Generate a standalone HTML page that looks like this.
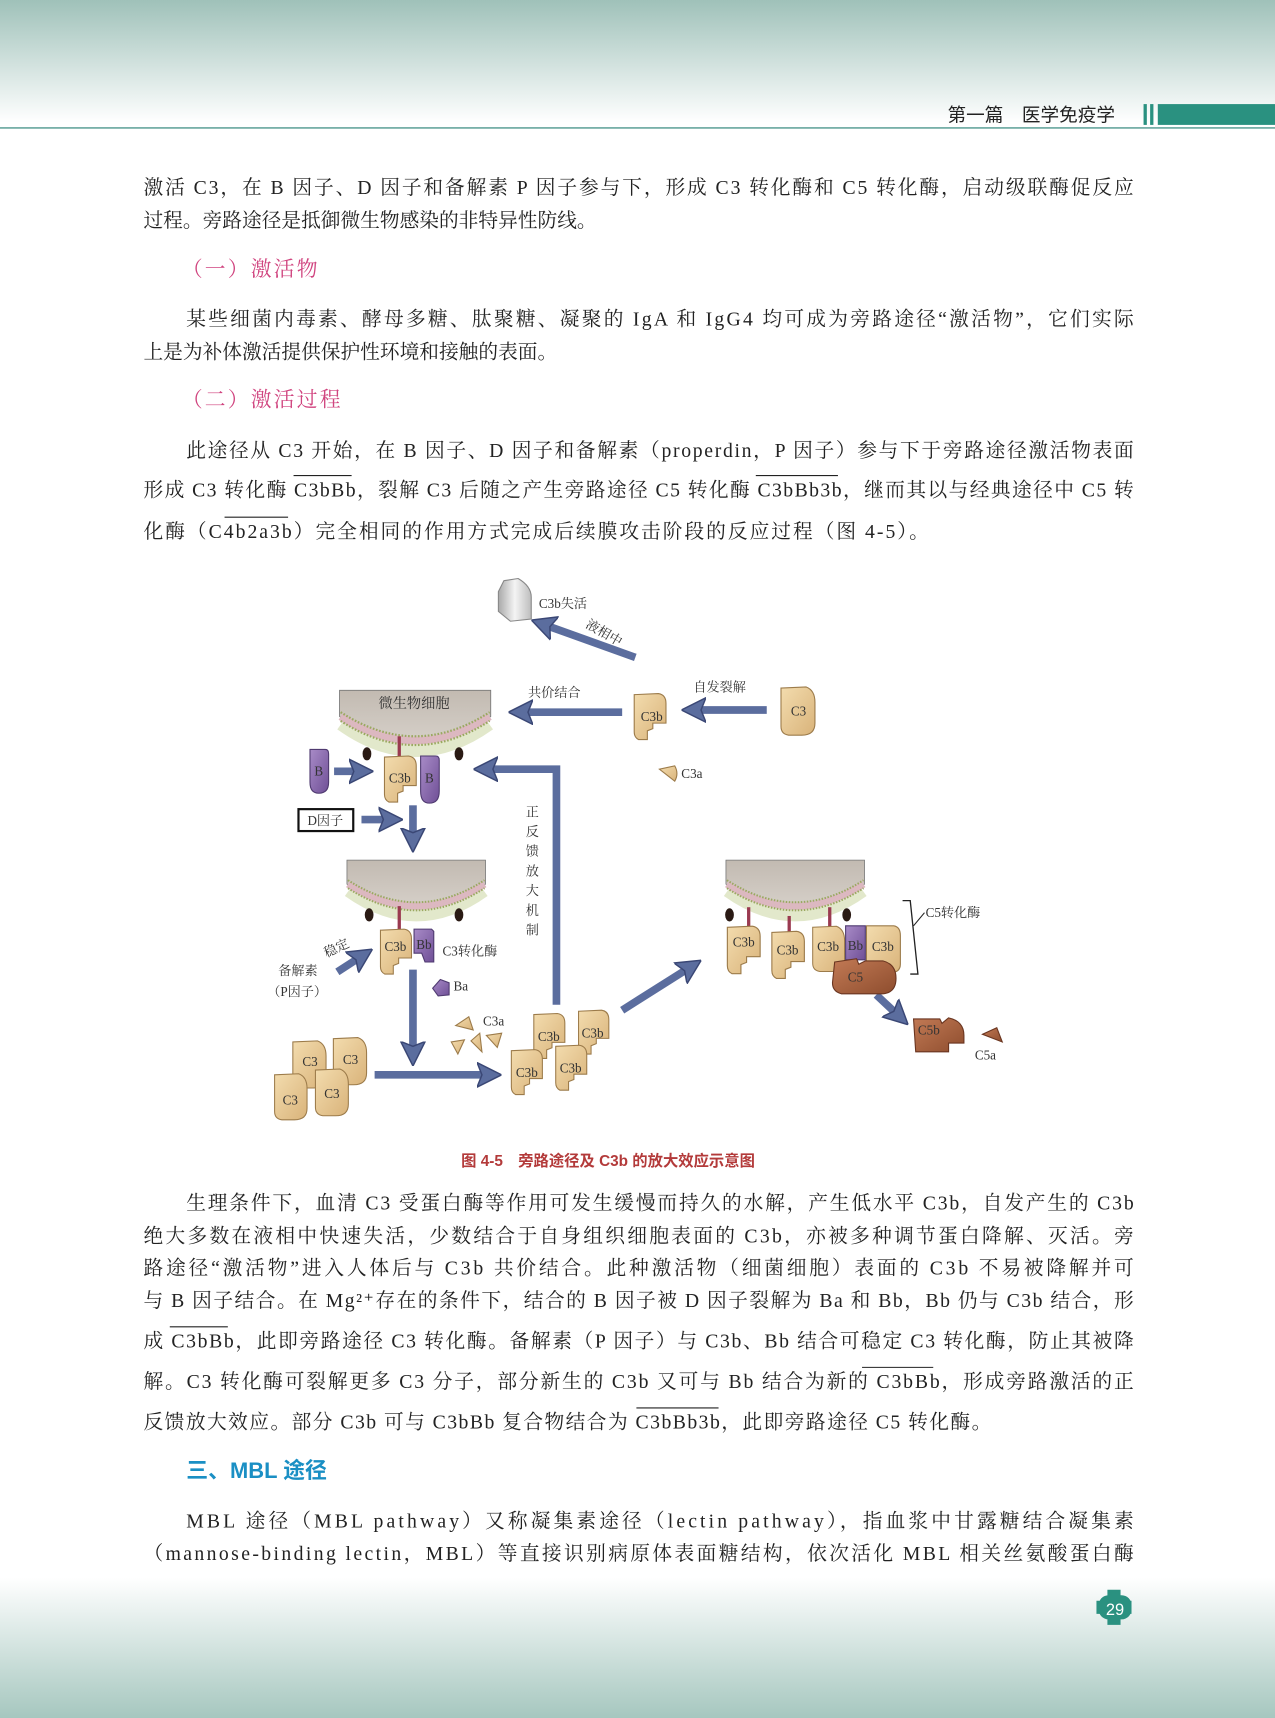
<!DOCTYPE html>
<html><head><meta charset="utf-8"><style>
html,body{margin:0;padding:0;background:#fff;}
svg{display:block;}
.t{font-family:"Liberation Serif","Noto Serif CJK SC","Noto Sans CJK SC",serif;font-size:18px;fill:#222;}
.d{font-family:"Liberation Serif","Noto Serif CJK SC","Noto Sans CJK SC",serif;font-size:13px;fill:#333;}
.l{font-family:"Liberation Serif","Noto Serif CJK SC",serif;font-size:12px;fill:#333;}
</style></head><body>
<svg width="1275" height="1718" viewBox="0 0 1164 1568" preserveAspectRatio="none" xmlns="http://www.w3.org/2000/svg">
<defs>
<linearGradient id="top" x1="0" y1="0" x2="0" y2="1"><stop offset="0" stop-color="#9fc1b9"/><stop offset="1" stop-color="#ffffff"/></linearGradient>
<linearGradient id="bot" x1="0" y1="0" x2="0" y2="1"><stop offset="0" stop-color="#ffffff"/><stop offset="1" stop-color="#a6c7bf"/></linearGradient>
<linearGradient id="tan" x1="0" y1="0" x2="1" y2="1"><stop offset="0" stop-color="#f3dcae"/><stop offset="1" stop-color="#d9b37a"/></linearGradient>
<linearGradient id="pur" x1="0" y1="0" x2="1" y2="1"><stop offset="0" stop-color="#a88bc7"/><stop offset="1" stop-color="#6f4f96"/></linearGradient>
<linearGradient id="brn" x1="0" y1="0" x2="1" y2="1"><stop offset="0" stop-color="#c27a55"/><stop offset="1" stop-color="#8e4d2e"/></linearGradient>
<linearGradient id="gry" x1="0" y1="0" x2="1" y2="0"><stop offset="0" stop-color="#a9a9a9"/><stop offset=".5" stop-color="#f4f4f4"/><stop offset="1" stop-color="#bdbdbd"/></linearGradient>
<linearGradient id="cell" x1="0" y1="0" x2="0" y2="1"><stop offset="0" stop-color="#c2bab1"/><stop offset="1" stop-color="#d6d0c9"/></linearGradient>
<marker id="ah" viewBox="0 0 10 10" refX="2" refY="5" markerWidth="3.2" markerHeight="3.4" orient="auto" markerUnits="strokeWidth"><path d="M0,0 L10,5 L0,10 L2,5 Z" fill="#5b6d9e" stroke="#3a4775" stroke-width=".6"/></marker>
<symbol id="c3b" viewBox="0 0 31 43" overflow="visible"><path d="M1,1 L23,0 Q30,1 30,9 L30,27 L18,27 L18,32 L13,34 L13,42 L5,42 Q1,40 1,35 Z" fill="url(#tan)" stroke="#9c7b4a" stroke-width="1"/></symbol>
<symbol id="c3" viewBox="0 0 33 45" overflow="visible"><path d="M1,1 L24,0 Q32,3 32,14 L32,33 Q32,44 20,44 L8,44 Q1,43 1,36 Z" fill="url(#tan)" stroke="#9c7b4a" stroke-width="1"/></symbol>
<symbol id="cellS" viewBox="0 0 138 60" overflow="visible">
<path d="M2,30 Q69,78 136,30" fill="none" stroke="#cfd8a8" stroke-width="14" opacity=".6"/>
<path d="M0,0 L138,0 L138,24 Q69,72 0,24 Z" fill="url(#cell)" stroke="#777" stroke-width=".8"/>
<path d="M1,24 Q69,68 137,24" fill="none" stroke="#dcb8c0" stroke-width="7"/>
<path d="M1,20 Q69,64 137,20" fill="none" stroke="#9aa860" stroke-width="2" stroke-dasharray="1.5 1.5"/>
<path d="M1,28 Q69,72 137,28" fill="none" stroke="#9aa860" stroke-width="2" stroke-dasharray="1.5 1.5"/>
</symbol>
</defs>

<rect x="0" y="0" width="1164" height="112" fill="url(#top)"/>
<text x="865" y="111" font-family="Liberation Sans,'Noto Sans CJK SC',sans-serif" font-size="17" fill="#222">第一篇　医学免疫学</text>
<rect x="1044" y="95" width="3" height="19" fill="#2a9180"/>
<rect x="1050" y="95" width="3" height="19" fill="#2a9180"/>
<rect x="1057" y="95" width="107" height="19" fill="#2a9180"/>
<rect x="0" y="116" width="1164" height="1.5" fill="#6aa8a0"/>

<rect x="0" y="1440" width="1164" height="128" fill="url(#bot)"/>
<path d="M1011,1451 h12 v10 h10 v12 h-10 v10 h-12 v-10 h-10 v-12 h10 z" fill="#2a9180"/>
<rect x="1003" y="1456" width="30" height="22" rx="9" fill="#2a9180"/>
<text x="1018" y="1474" text-anchor="middle" font-family="Liberation Sans,sans-serif" font-size="15" fill="#fff">29</text>

<g class="t">
<text x="131" y="177" textLength="904" lengthAdjust="spacing">激活 C3，在 B 因子、D 因子和备解素 P 因子参与下，形成 C3 转化酶和 C5 转化酶，启动级联酶促反应</text>
<text x="131" y="207">过程。旁路途径是抵御微生物感染的非特异性防线。</text>
<text x="166" y="252" font-size="19" style="fill:#d0447f;letter-spacing:2px">（一）激活物</text>
<text x="170" y="297" textLength="865" lengthAdjust="spacing">某些细菌内毒素、酵母多糖、肽聚糖、凝聚的 IgA 和 IgG4 均可成为旁路途径“激活物”，它们实际</text>
<text x="131" y="327">上是为补体激活提供保护性环境和接触的表面。</text>
<text x="166" y="371" font-size="19" style="fill:#d0447f;letter-spacing:2px">（二）激活过程</text>
<text x="170" y="417" textLength="865" lengthAdjust="spacing">此途径从 C3 开始，在 B 因子、D 因子和备解素（properdin，P 因子）参与下于旁路途径激活物表面</text>
<text x="131" y="453" textLength="904" lengthAdjust="spacing">形成 C3 转化酶 C3bBb，裂解 C3 后随之产生旁路途径 C5 转化酶 C3bBb3b，继而其以与经典途径中 C5 转</text>
<text x="131" y="491" textLength="717" lengthAdjust="spacing">化酶（C4b2a3b）完全相同的作用方式完成后续膜攻击阶段的反应过程（图 4-5）。</text>
</g>
<g stroke="#222" stroke-width="1">
<line x1="268" y1="434" x2="321" y2="434"/><line x1="690" y1="434" x2="765" y2="434"/><line x1="205" y1="472" x2="263" y2="472"/>
<line x1="155" y1="1211" x2="208" y2="1211"/><line x1="787" y1="1248" x2="852" y2="1248"/><line x1="581" y1="1285" x2="656" y2="1285"/>
</g>

<text x="421" y="1064" font-family="Liberation Sans,'Noto Sans CJK SC',sans-serif" font-size="14" font-weight="bold" fill="#b33a3a">图 4-5　旁路途径及 C3b 的放大效应示意图</text>

<g class="t">
<text x="170" y="1104" textLength="865" lengthAdjust="spacing">生理条件下，血清 C3 受蛋白酶等作用可发生缓慢而持久的水解，产生低水平 C3b，自发产生的 C3b</text>
<text x="131" y="1134" textLength="904" lengthAdjust="spacing">绝大多数在液相中快速失活，少数结合于自身组织细胞表面的 C3b，亦被多种调节蛋白降解、灭活。旁</text>
<text x="131" y="1163" textLength="904" lengthAdjust="spacing">路途径“激活物”进入人体后与 C3b 共价结合。此种激活物（细菌细胞）表面的 C3b 不易被降解并可</text>
<text x="131" y="1193" textLength="904" lengthAdjust="spacing">与 B 因子结合。在 Mg²⁺存在的条件下，结合的 B 因子被 D 因子裂解为 Ba 和 Bb，Bb 仍与 C3b 结合，形</text>
<text x="131" y="1230" textLength="904" lengthAdjust="spacing">成 C3bBb，此即旁路途径 C3 转化酶。备解素（P 因子）与 C3b、Bb 结合可稳定 C3 转化酶，防止其被降</text>
<text x="131" y="1267" textLength="904" lengthAdjust="spacing">解。C3 转化酶可裂解更多 C3 分子，部分新生的 C3b 又可与 Bb 结合为新的 C3bBb，形成旁路激活的正</text>
<text x="131" y="1304" textLength="774" lengthAdjust="spacing">反馈放大效应。部分 C3b 可与 C3bBb 复合物结合为 C3bBb3b，此即旁路途径 C5 转化酶。</text>
<text x="170" y="1349" font-family="Liberation Sans,'Noto Sans CJK SC',sans-serif" font-size="20" font-weight="bold" style="fill:#1a8fc4">三、MBL 途径</text>
<text x="170" y="1394" textLength="865" lengthAdjust="spacing">MBL 途径（MBL pathway）又称凝集素途径（lectin pathway），指血浆中甘露糖结合凝集素</text>
<text x="131" y="1424" textLength="904" lengthAdjust="spacing">（mannose-binding lectin，MBL）等直接识别病原体表面糖结构，依次活化 MBL 相关丝氨酸蛋白酶</text>
</g>

<g stroke="#5b6d9e" stroke-width="7" fill="none" marker-end="url(#ah)">
<line x1="580" y1="600" x2="502" y2="572"/>
<line x1="700" y1="648" x2="640" y2="648"/>
<line x1="568" y1="650" x2="482" y2="650"/>
<line x1="305" y1="704" x2="323" y2="704"/>
<line x1="330" y1="748" x2="350" y2="748"/>
<line x1="377" y1="735" x2="377" y2="760"/>
<polyline points="508,917 508,702 450,702"/>
<line x1="308" y1="887" x2="325" y2="876"/>
<line x1="377" y1="885" x2="377" y2="955"/>
<line x1="342" y1="981" x2="440" y2="981"/>
<line x1="568" y1="922" x2="625" y2="886"/>
<line x1="800" y1="908" x2="816" y2="923"/>
</g>

<path d="M460,530 L473,528 Q485,535 485,545 L485,565 L466,567 L455,558 L455,540 Z" fill="url(#gry)" stroke="#888"/>
<text class="l" x="492" y="555">C3b失活</text>
<text class="l" x="0" y="0" transform="translate(534,572) rotate(30)">液相中</text>
<text class="l" x="633" y="631">自发裂解</text>
<text class="l" x="482" y="636">共价结合</text>

<use href="#c3" x="712" y="627" width="33" height="45"/>
<text class="l" x="729" y="653" text-anchor="middle">C3</text>
<use href="#c3b" x="578" y="633" width="31" height="43"/>
<text class="l" x="595" y="658" text-anchor="middle">C3b</text>
<path d="M602,702 L616,699 Q620,706 616,713 Z" fill="url(#tan)" stroke="#9c7b4a"/>
<text class="l" x="622" y="710">C3a</text>

<use href="#cellS" x="310" y="630" width="138" height="60"/>
<text class="d" x="378" y="646" text-anchor="middle" fill="#444">微生物细胞</text>
<ellipse cx="335" cy="688" rx="4" ry="6" fill="#2a1a14"/><ellipse cx="419" cy="688" rx="4" ry="6" fill="#2a1a14"/>
<rect x="363" y="672" width="3" height="20" fill="#9a3a50"/>
<use href="#c3b" x="348" y="690" width="35" height="43"/>
<path d="M384,690 L398,690 Q401,690 401,694 L401,722 Q401,733 392,733 Q384,733 384,722 Z" fill="url(#pur)" stroke="#4f3a70"/>
<text class="l" x="365" y="714" text-anchor="middle">C3b</text><text class="l" x="392" y="714" text-anchor="middle">B</text>
<path d="M283,684 L297,684 Q300,684 300,688 L300,714 Q300,724 291,724 Q283,724 283,714 Z" fill="url(#pur)" stroke="#4f3a70"/>
<text class="l" x="291" y="708" text-anchor="middle">B</text>
<rect x="272.5" y="738.5" width="50" height="20" fill="#fff" stroke="#111" stroke-width="2"/>
<text class="l" x="297" y="753" text-anchor="middle">D因子</text>
<g class="l"><text x="480" y="745">正</text><text x="480" y="763">反</text><text x="480" y="781">馈</text><text x="480" y="799">放</text><text x="480" y="817">大</text><text x="480" y="835">机</text><text x="480" y="853">制</text></g>

<use href="#cellS" x="313" y="785" width="134" height="55"/>
<ellipse cx="337" cy="835" rx="4" ry="6" fill="#2a1a14"/><ellipse cx="419" cy="835" rx="4" ry="6" fill="#2a1a14"/>
<rect x="363" y="827" width="3" height="22" fill="#9a3a50"/>
<use href="#c3b" x="345" y="848" width="33" height="42"/>
<path d="M378,848 L394,848 L396,850 L396,878 L388,878 L385,870 L378,870 Z" fill="url(#pur)" stroke="#4f3a70"/>
<text class="l" x="361" y="868" text-anchor="middle">C3b</text><text class="l" x="387" y="866" text-anchor="middle">Bb</text>
<text class="l" x="404" y="872">C3转化酶</text>
<text class="l" x="0" y="0" transform="translate(298,874) rotate(-25)">稳定</text>
<text class="l" x="254" y="890">备解素</text>
<text class="l" x="244" y="909">（P因子）</text>
<path d="M395,902 L402,894 L410,897 L410,908 L400,909 Z" fill="url(#pur)" stroke="#4f3a70"/>
<text class="l" x="414" y="904">Ba</text>

<use href="#c3" x="265" y="950" width="35" height="44"/>
<use href="#c3" x="303" y="947" width="33" height="44"/>
<use href="#c3" x="248" y="980" width="35" height="43"/>
<use href="#c3" x="287" y="975" width="32" height="45"/>
<g class="l" text-anchor="middle"><text x="283" y="973">C3</text><text x="320" y="971">C3</text><text x="265" y="1008">C3</text><text x="303" y="1002">C3</text></g>

<g fill="url(#tan)" stroke="#9c7b4a">
<path d="M416,936 L428,928 L432,940 Z"/><path d="M412,951 L424,949 L418,962 Z"/>
<path d="M430,950 L438,943 L440,960 Z"/><path d="M444,945 L458,943 L454,956 Z"/>
</g>
<text class="l" x="441" y="936">C3a</text>

<use href="#c3b" x="486" y="925" width="31" height="42"/>
<use href="#c3b" x="527" y="922" width="30" height="41"/>
<use href="#c3b" x="465" y="958" width="32" height="42"/>
<use href="#c3b" x="506" y="954" width="31" height="42"/>
<g class="l" text-anchor="middle"><text x="501" y="950">C3b</text><text x="541" y="947">C3b</text><text x="481" y="983">C3b</text><text x="521" y="979">C3b</text></g>

<use href="#cellS" x="657" y="785" width="138" height="55"/>
<ellipse cx="666" cy="835" rx="4" ry="6" fill="#2a1a14"/><ellipse cx="773" cy="835" rx="4" ry="6" fill="#2a1a14"/>
<rect x="682" y="828" width="3" height="20" fill="#9a3a50"/>
<rect x="719" y="836" width="3" height="16" fill="#9a3a50"/>
<rect x="756" y="828" width="3" height="20" fill="#9a3a50"/>
<use href="#c3b" x="663" y="845" width="32" height="45"/>
<use href="#c3b" x="703" y="850" width="33" height="44"/>
<use href="#c3" x="741" y="845" width="31" height="43"/>
<path d="M791,845 L816,845 Q822,846 822,854 L822,880 Q822,888 812,888 L791,888 Z" fill="url(#tan)" stroke="#9c7b4a"/>
<path d="M772,845 L790,845 L790,876 L772,876 Z" fill="url(#pur)" stroke="#4f3a70"/>
<path d="M762,878 L782,875 L784,880 L790,877 L806,877 Q818,880 818,893 Q818,906 806,907 L768,907 Q760,905 760,897 Z" fill="url(#brn)" stroke="#6a3520"/>
<g class="l" text-anchor="middle"><text x="679" y="864">C3b</text><text x="719" y="871">C3b</text><text x="756" y="868">C3b</text><text x="781" y="867">Bb</text><text x="806" y="868">C3b</text><text x="781" y="896">C5</text></g>
<path d="M824,822 L831,822 L838,889 L831,889" fill="none" stroke="#222" stroke-width="1.2"/>
<line x1="834" y1="845" x2="844" y2="833" stroke="#222"/>
<text class="l" x="845" y="837">C5转化酶</text>
<path d="M834,930 L858,930 L860,934 L866,929 Q880,932 880,945 L880,952 L866,952 L866,960 L836,960 Z" fill="url(#brn)" stroke="#6a3520"/>
<text class="l" x="848" y="944" text-anchor="middle">C5b</text>
<path d="M897,944 L910,938 L915,951 Z" fill="url(#brn)" stroke="#6a3520"/>
<text class="l" x="890" y="967">C5a</text>
</svg>
</body></html>
